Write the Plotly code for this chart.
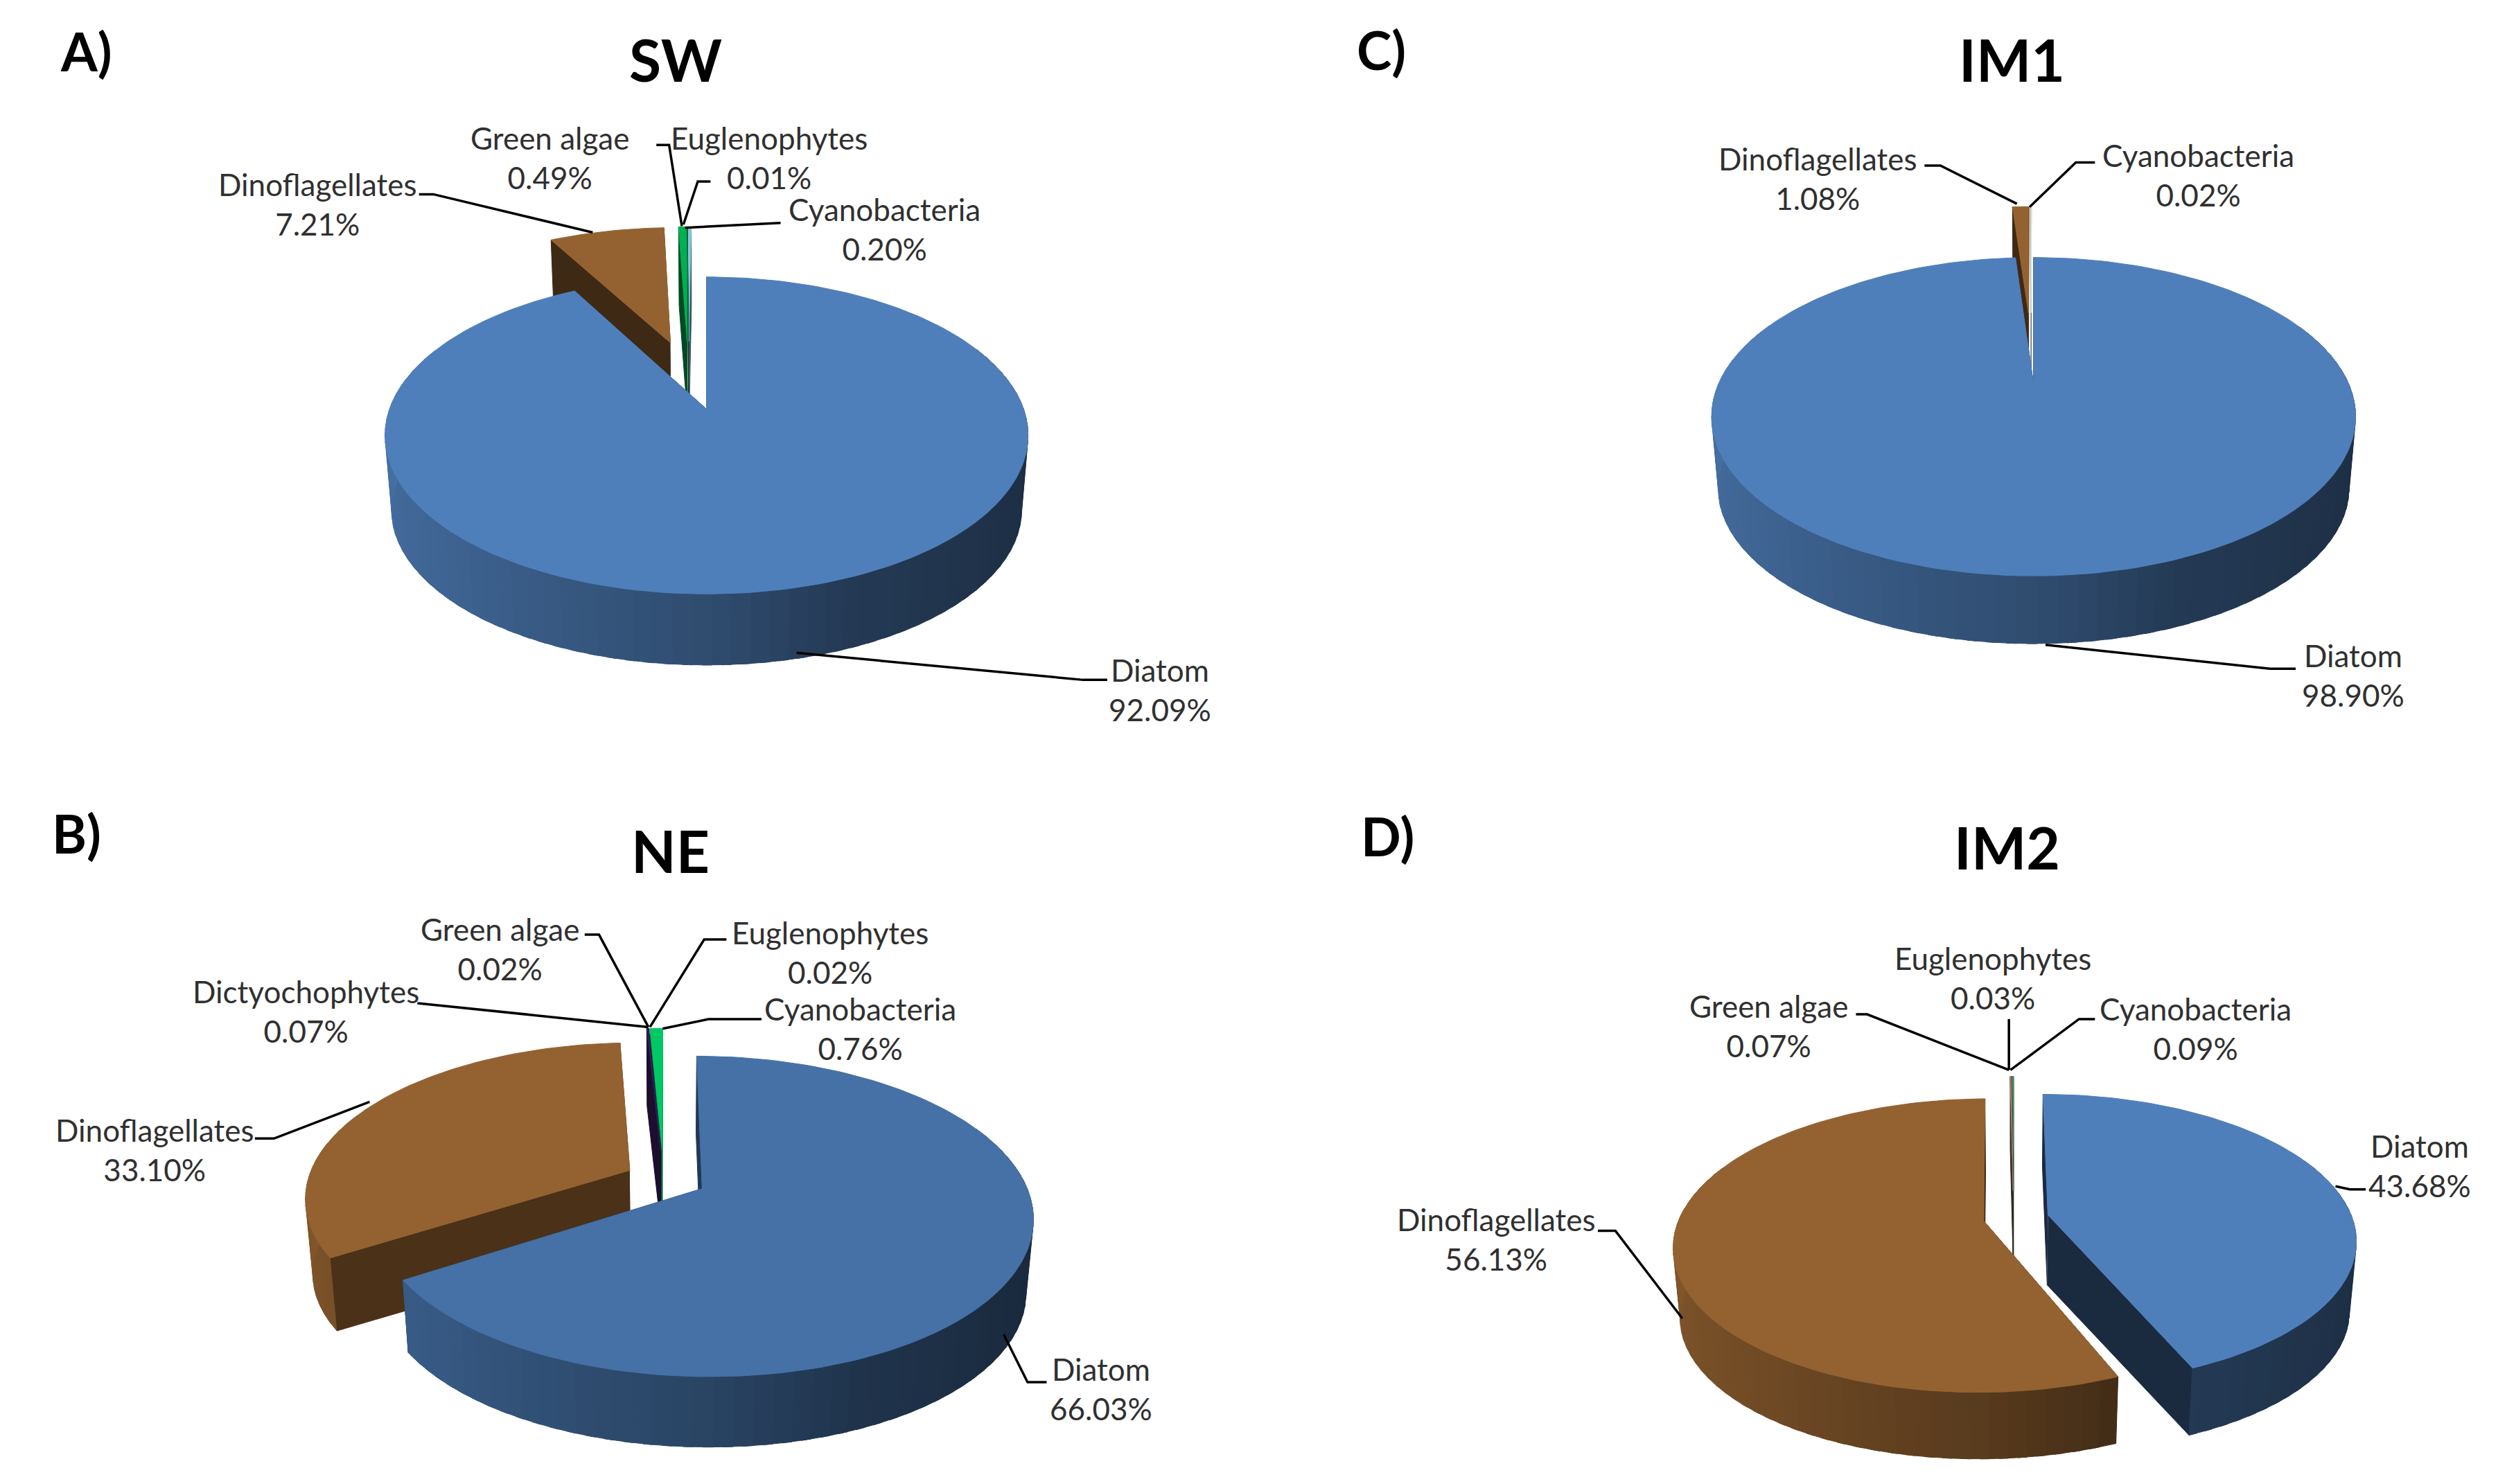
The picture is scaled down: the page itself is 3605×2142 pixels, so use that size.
import math
import plotly.graph_objects as go

# ---------- data ----------
sw_names = ["Diatom", "Dinoflagellates", "Green algae", "Euglenophytes", "Cyanobacteria"]
sw_values = [92.09, 7.21, 0.49, 0.01, 0.20]
ne_names = ["Diatom", "Dinoflagellates", "Dictyochophytes", "Green algae", "Euglenophytes", "Cyanobacteria"]
ne_values = [66.03, 33.10, 0.07, 0.02, 0.02, 0.76]
im1_names = ["Diatom", "Dinoflagellates", "Cyanobacteria"]
im1_values = [98.90, 1.08, 0.02]
im2_names = ["Diatom", "Dinoflagellates", "Green algae", "Euglenophytes", "Cyanobacteria"]
im2_values = [43.68, 56.13, 0.07, 0.03, 0.09]

BLUE, BLUE2, BROWN = "#4f7fba", "#4571a6", "#946231"
GREEN, LBLUE, PURPLE, BRIGHT = "#00b050", "#86c8dc", "#3a1a5e", "#00c864"

W, H = 1568.0, 932.0   # drawing units of the axes
PAGE_W, PAGE_H = 3605, 2142
BODY_MARGIN = 8        # the page's own margin, in pixels
unit = PAGE_W / W
shift = BODY_MARGIN / unit

panels = [
    dict(title="SW", tag="A)", title_xy=(424, 37), tag_xy=(54, 32),
         names=sw_names, values=sw_values,
         colors=[BLUE, BROWN, GREEN, "#0a6a4a", LBLUE], explode=[.24] * 5, wall=.42,
         O=(443.5, 257), X=199, Y=96.8, k=.166, D=47, c0=(-.059, .233),
         labels=[(728, 433), (199, 128), (345, 99), (483, 99), (555, 144)],
         leaders=[[(695, 427), (680, 427), (500, 410)], [(263, 122), (272, 122), (372, 146)],
                  [(412, 91), (420, 91), (428, 142)], [(446, 114), (438, 114), (429, 141)],
                  [(490, 140), (430, 143)]]),
    dict(title="NE", tag="B)", title_xy=(421, 534), tag_xy=(48, 523),
         names=ne_names, values=ne_values,
         colors=[BLUE2, BROWN, PURPLE, "#2a2a6a", "#103040", BRIGHT],
         explode=[.135, .12, .19, .19, .19, .19], wall=.5,
         O=(417.6, 727), X=197, Y=91, k=.167, D=47, c0=(-.005, -.142),
         labels=[(691, 872), (97, 722), (192, 635), (314, 596), (521, 598), (540, 646)],
         leaders=[[(657, 868), (645, 868), (630, 838)], [(160, 715), (172, 715), (232, 692)],
                  [(262, 630), (407, 645)], [(367, 587), (376, 587), (407, 645)],
                  [(456, 590), (442, 590), (408, 645)], [(478, 640), (445, 640), (416, 646)]]),
    dict(title="IM1", tag="C)", title_xy=(1263, 37), tag_xy=(867, 31),
         names=im1_names, values=im1_values,
         colors=[BLUE, BROWN, "#dbeee0"], explode=[.26] * 3, wall=.42,
         O=(1276.5, 241.7), X=198, Y=96, k=.2, D=45, c0=(-.009, .26),
         labels=[(1477, 424), (1141, 112), (1380, 110)],
         leaders=[[(1441, 420), (1425, 420), (1284, 405)], [(1208, 104), (1218, 104), (1266, 128)],
                  [(1315, 102), (1303, 102), (1274, 130)]]),
    dict(title="IM2", tag="D)", title_xy=(1260, 532), tag_xy=(871, 525),
         names=im2_names, values=im2_values,
         colors=[BLUE, BROWN, "#a08070", "#505050", "#50a070"],
         explode=[.115, .1, .2, .2, .2], wall=.34,
         O=(1264, 765), X=191, Y=89, k=.167, D=44, c0=(0, 0),
         labels=[(1519, 732), (939, 778), (1110, 644), (1251, 614), (1378, 646)],
         leaders=[[(1485, 747), (1475, 747), (1466, 745)], [(1003, 773), (1014, 773), (1056, 828)],
                  [(1165, 637), (1172, 637), (1261, 672)], [(1261, 640), (1261, 672)],
                  [(1315, 640), (1305, 640), (1262, 672)]]),
]

# outer-wall lighting: clockwise angle on the disc (degrees) -> brightness
light_angle = [90, 120, 157, 180, 225, 270]
light_value = [.36, .38, .45, .60, .78, .88]


def lighting(deg):
    deg = deg % 360
    if deg <= light_angle[0]:
        return light_value[0]
    if deg >= light_angle[-1]:
        return light_value[-1]
    for i in range(len(light_angle) - 1):
        if deg <= light_angle[i + 1]:
            f = (deg - light_angle[i]) / (light_angle[i + 1] - light_angle[i])
            return light_value[i] + f * (light_value[i + 1] - light_value[i])


def shade(hexcol, f):
    r, g, b = int(hexcol[1:3], 16), int(hexcol[3:5], 16), int(hexcol[5:7], 16)
    return f"rgb({round(r*f)},{round(g*f)},{round(b*f)})"


def poly(xs, ys, color):
    return go.Scatter(x=xs, y=ys, mode="lines", fill="toself", fillcolor=color,
                      line=dict(color=color, width=1), hoverinfo="skip", showlegend=False)


fig = go.Figure()

for p in panels:
    ox, oy = p["O"]
    X, Y, k, D = p["X"], p["Y"], p["k"], p["D"]

    def top(u, v):
        d = 1 + k * v
        return ox + X * u / d, oy - Y * v / d

    def bottom(u, v):
        sx, sy = top(u, v)
        return ox + .98 * (sx - ox), oy + .98 * (sy - oy) + D

    total = sum(p["values"])
    slices, a = [], 0.0
    for val, col, e in zip(p["values"], p["colors"], p["explode"]):
        b = a + val / total * 2 * math.pi
        mid = (a + b) / 2
        slices.append((a, b, p["c0"][0] + e * math.sin(mid), p["c0"][1] + e * math.cos(mid), col))
        a = b

    # painter's order: the slices behind first, the first slice (Diatom) last
    for a, b, ou, ov, col in reversed(slices):
        n = max(2, int((b - a) / math.radians(1.5)) + 1)
        ths = [a + (b - a) * i / n for i in range(n + 1)]
        rim = [(ou + math.sin(t), ov + math.cos(t)) for t in ths]
        apex = (ou, ov)

        # radial walls
        for edge in (rim[0], rim[-1]):
            pts = [top(*apex), top(*edge), bottom(*edge), bottom(*apex)]
            fig.add_trace(poly([q[0] for q in pts], [q[1] for q in pts], shade(col, p["wall"])))

        # outer wall, whose brightness follows the direction it faces
        for i in range(0, n, 2):
            j = min(i + 3, n)
            if math.cos(ths[i]) > .35 and math.cos(ths[j]) > .35:
                continue
            seg = rim[i:j + 1]
            pts = [top(*q) for q in seg] + [bottom(*q) for q in reversed(seg)]
            fig.add_trace(poly([q[0] for q in pts], [q[1] for q in pts],
                               shade(col, lighting(math.degrees(ths[min(i + 1, n)])))))

        # top face
        pts = [top(*apex)] + [top(*q) for q in rim] + [top(*apex)]
        fig.add_trace(poly([q[0] for q in pts], [q[1] for q in pts], col))

annotations, shapes = [], []
for p in panels:
    annotations.append(dict(x=p["title_xy"][0], y=p["title_xy"][1], text=f"<b>{p['title']}</b>",
                            showarrow=False, xref="x", yref="y",
                            font=dict(family="Lato", size=84, color="#000000")))
    annotations.append(dict(x=p["tag_xy"][0], y=p["tag_xy"][1], text=f"<b>{p['tag']}</b>",
                            showarrow=False, xref="x", yref="y",
                            font=dict(family="Lato", size=76, color="#000000")))
    for name, val, xy in zip(p["names"], p["values"], p["labels"]):
        annotations.append(dict(x=xy[0], y=xy[1], text=f"{name}<br>{val:.2f}%",
                                showarrow=False, xref="x", yref="y", align="center",
                                font=dict(family="Lato", size=44, color="#303030")))
    for line in p["leaders"]:
        path = "M " + " L ".join(f"{q[0]},{q[1]}" for q in line)
        shapes.append(dict(type="path", path=path, xref="x", yref="y",
                           line=dict(color="#000000", width=3.5)))

fig.update_layout(
    width=PAGE_W - BODY_MARGIN, height=PAGE_H - BODY_MARGIN,
    margin=dict(l=0, r=0, t=0, b=0),
    paper_bgcolor="#ffffff", plot_bgcolor="#ffffff", showlegend=False,
    xaxis=dict(range=[shift, W], visible=False, fixedrange=True),
    yaxis=dict(range=[H, shift], visible=False, fixedrange=True),
    annotations=annotations, shapes=shapes,
)
fig.write_html("out.html")
